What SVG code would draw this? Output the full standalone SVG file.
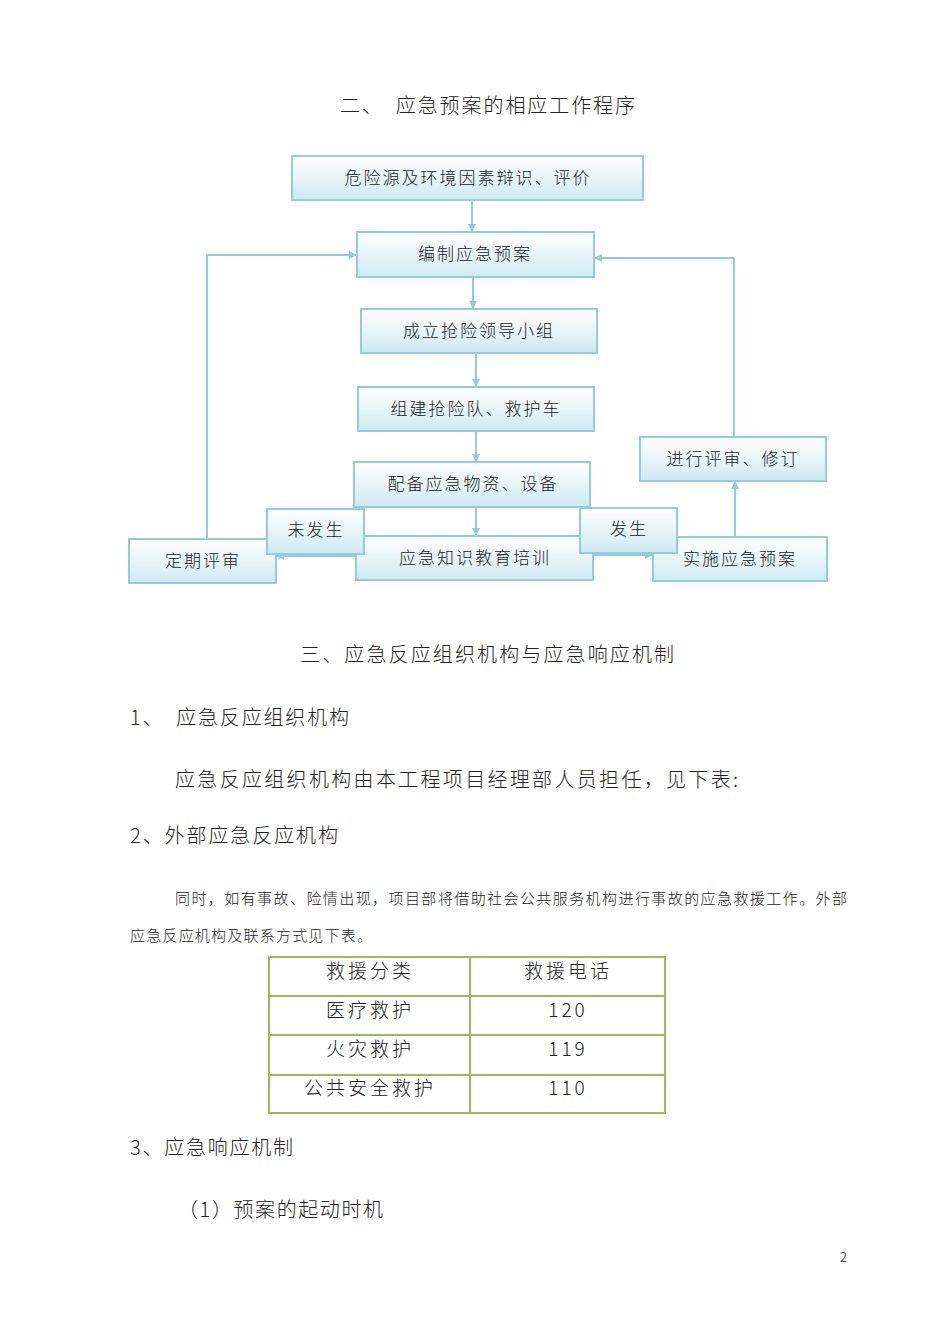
<svg xmlns="http://www.w3.org/2000/svg" width="950" height="1344" viewBox="0 0 950 1344">
<style>
text{font-family:"Noto Sans CJK SC","Liberation Serif",sans-serif;fill:#222;font-weight:300}
.b{stroke:#93cddd;stroke-width:2;fill:url(#g)}
.bt{font-size:17px;text-anchor:middle;letter-spacing:2px}
.c{stroke:#93cddd;stroke-width:2;fill:none;marker-end:url(#a)}
.h{font-size:20px;letter-spacing:2px}
.t{stroke:#9bbb59;stroke-width:2;fill:none}
.tt{font-size:19px;text-anchor:middle;letter-spacing:3px}
</style>
<defs>
<linearGradient id="g" x1="0" y1="0" x2="0" y2="1"><stop offset="0" stop-color="#ffffff"/><stop offset="1" stop-color="#cfe9f1"/></linearGradient>
<marker id="a" markerWidth="8" markerHeight="8" refX="7" refY="4" orient="auto" markerUnits="userSpaceOnUse"><path d="M0,0L8,4L0,8z" fill="#93cddd"/></marker>
</defs>
<rect width="950" height="1344" fill="#fff"/>
<text class="h" x="340" y="113" textLength="297">二、　应急预案的相应工作程序</text>
<g id="connectors">
<path class="c" d="M472,200V231"/>
<path class="c" d="M473,277V308"/>
<path class="c" d="M476,353V386"/>
<path class="c" d="M476,431V461"/>
<path class="c" d="M476,507V535"/>
<path class="c" d="M207,539V255H356"/>
<path class="c" d="M734,437V258H595"/>
<path class="c" d="M735,537V482"/>
<path class="c" d="M356,556H277"/>
<path class="c" d="M593,555H652"/>
</g>
<g id="n1"><rect class="b" x="292" y="156" width="351" height="44"/><text class="bt" x="468" y="184">危险源及环境因素辩识、评价</text></g>
<g id="n2"><rect class="b" x="357" y="232" width="237" height="45"/><text class="bt" x="475" y="260">编制应急预案</text></g>
<g id="n3"><rect class="b" x="361" y="309" width="236" height="44"/><text class="bt" x="479" y="337">成立抢险领导小组</text></g>
<g id="n4"><rect class="b" x="358" y="387" width="236" height="44"/><text class="bt" x="476" y="415">组建抢险队、救护车</text></g>
<g id="n5"><rect class="b" x="354" y="462" width="236" height="45"/><text class="bt" x="473" y="490">配备应急物资、设备</text></g>
<g id="n6"><rect class="b" x="356" y="536" width="237" height="44"/><text class="bt" x="475" y="564">应急知识教育培训</text></g>
<g id="n9"><rect class="b" x="129" y="539" width="147" height="44"/><text class="bt" x="203" y="567">定期评审</text></g>
<g id="n10"><rect class="b" x="653" y="537" width="174" height="44"/><text class="bt" x="740" y="565">实施应急预案</text></g>
<g id="n11"><rect class="b" x="640" y="437" width="186" height="44"/><text class="bt" x="733" y="465">进行评审、修订</text></g>
<g id="n7"><rect class="b" x="267" y="509" width="97" height="45"/><text class="bt" x="316" y="536">未发生</text></g>
<g id="n8"><rect class="b" x="580" y="508" width="97" height="45"/><text class="bt" x="629" y="535">发生</text></g>
<text class="h" x="300" y="662" textLength="376">三、应急反应组织机构与应急响应机制</text>
<text class="h" x="130" y="725" textLength="221">1、　应急反应组织机构</text>
<text class="h" x="175" y="787" textLength="565">应急反应组织机构由本工程项目经理部人员担任，见下表:</text>
<text class="h" x="130" y="843" textLength="210">2、外部应急反应机构</text>
<text x="175" y="904" font-size="15" textLength="672">同时，如有事故、险情出现，项目部将借助社会公共服务机构进行事故的应急救援工作。外部</text>
<text x="130" y="941" font-size="15" textLength="242">应急反应机构及联系方式见下表。</text>
<g id="table">
<rect class="t" x="269" y="957" width="396" height="156"/>
<path class="t" d="M470,957V1113M269,996H665M269,1035H665M269,1075H665"/>
<text class="tt" x="370" y="978">救援分类</text><text class="tt" x="568" y="978">救援电话</text>
<text class="tt" x="370" y="1017">医疗救护</text><text class="tt" x="568" y="1017">120</text>
<text class="tt" x="370" y="1056">火灾救护</text><text class="tt" x="568" y="1056">119</text>
<text class="tt" x="370" y="1095">公共安全救护</text><text class="tt" x="568" y="1095">110</text>
</g>
<text class="h" x="130" y="1155" textLength="165">3、应急响应机制</text>
<text class="h" x="178" y="1217" textLength="207">（1）预案的起动时机</text>
<text x="840" y="1262" font-size="13" font-family="Liberation Serif">2</text>
</svg>
